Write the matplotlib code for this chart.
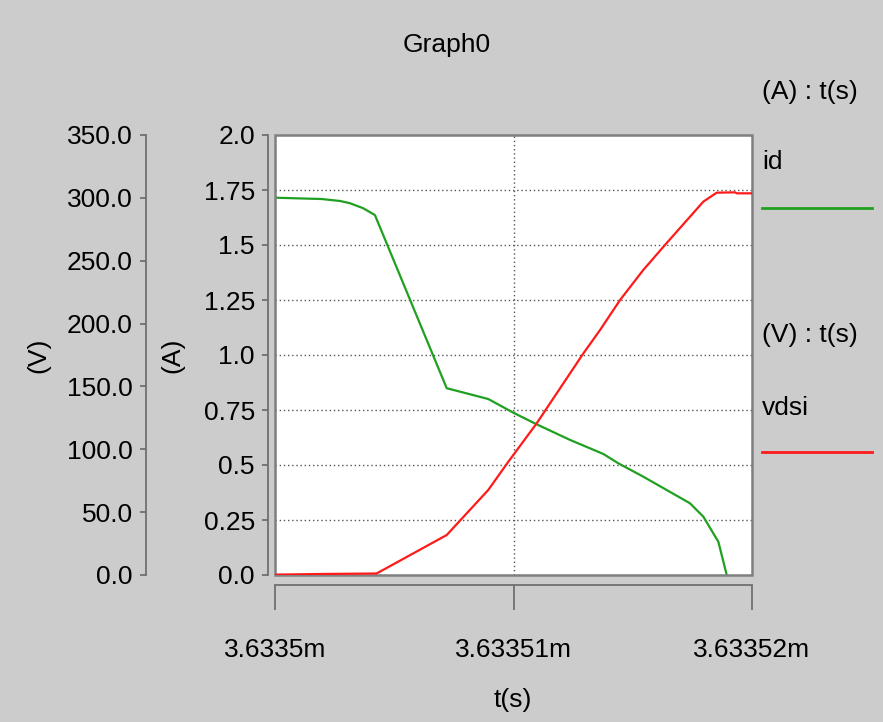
import matplotlib.pyplot as plt
from matplotlib.lines import Line2D
from matplotlib.patches import Rectangle

plt.rcParams['font.family'] = ['Liberation Sans', 'DejaVu Sans']
plt.rcParams['font.size'] = 19

# time in ns after 3.6335 ms
id_t = [0, 0.96, 1.96, 2.73, 3.14, 3.70, 4.19, 7.20, 8.94, 9.99, 10.97,
        12.37, 13.77, 14.39, 15.44, 17.40, 17.96, 18.59, 18.94]
id_a = [1.715, 1.712, 1.709, 1.70, 1.69, 1.667, 1.636, 0.849, 0.80, 0.738, 0.685,
        0.614, 0.55, 0.508, 0.447, 0.326, 0.265, 0.151, 0.0]

vds_t = [0, 1.97, 4.26, 7.20, 8.94, 9.78, 10.97, 12.93, 13.63, 14.47, 15.44,
         16.35, 17.40, 17.96, 18.52, 19.29, 19.36, 20.0]
vds_v = [0.3, 0.8, 1.2, 31.8, 67.6, 90.0, 120.6, 176.3, 194.9, 218.8, 242.6,
         262.5, 285.0, 297.0, 304.1, 304.4, 303.6, 303.6]

x_ticks = [3.6335, 3.63351, 3.63352]
x_labels = ['3.6335m', '3.63351m', '3.63352m']
a_ticks = [0, 0.25, 0.5, 0.75, 1.0, 1.25, 1.5, 1.75, 2.0]
a_labels = ['0.0', '0.25', '0.5', '0.75', '1.0', '1.25', '1.5', '1.75', '2.0']
v_ticks = [0, 50, 100, 150, 200, 250, 300, 350]
v_labels = ['0.0', '50.0', '100.0', '150.0', '200.0', '250.0', '300.0', '350.0']

t0 = 3.6335
id_ms = [t0 + t * 1e-6 for t in id_t]
vds_ms = [t0 + t * 1e-6 for t in vds_t]

W, H = 883, 722
bg = '#cccccc'
axc = '#707070'
fig = plt.figure(figsize=(W / 100, H / 100), dpi=100, facecolor=bg)

ax = fig.add_axes([275 / W, 1 - 575 / H, 477 / W, 440 / H])
ax.set_facecolor('white')
ax.plot(id_ms, id_a, color='#20a020', lw=1.6, zorder=3)
ax.set_xlim(3.6335, 3.63352)
ax.set_ylim(0, 2)
ax.set_xticks(x_ticks)
ax.set_xticklabels(x_labels)
ax.set_yticks(a_ticks)
ax.set_yticklabels(a_labels)
ax.grid(True, color='#555555', linestyle=(0, (1, 2)), lw=1)
for s in ['top', 'right']:
    ax.spines[s].set_visible(False)
ax.spines['left'].set_position(('axes', -7 / 477))
ax.spines['bottom'].set_position(('axes', -10 / 440))
for s in ['left', 'bottom']:
    ax.spines[s].set_color(axc)
    ax.spines[s].set_linewidth(1.3)
ax.tick_params(axis='y', length=4.5, width=1.3, color=axc, pad=5)
ax.tick_params(axis='x', length=18, width=1.3, color=axc, pad=20)
ax.add_patch(Rectangle((0, 0), 1, 1, transform=ax.transAxes, fill=False,
                       ec='#808080', lw=1.8, zorder=6, clip_on=False))

ax2 = ax.twinx()
ax2.plot(vds_ms, vds_v, color='#ff1a1a', lw=1.6, zorder=3)
ax2.set_ylim(0, 350)
ax2.set_yticks(v_ticks)
ax2.set_yticklabels(v_labels)
ax2.yaxis.set_ticks_position('left')
for s in ['top', 'right', 'bottom']:
    ax2.spines[s].set_visible(False)
ax2.spines['left'].set_position(('axes', -129 / 477))
ax2.spines['left'].set_color(axc)
ax2.spines['left'].set_linewidth(1.3)
ax2.tick_params(axis='y', length=4.5, width=1.3, color=axc, pad=5)

fig.text(447 / W, 1 - 45 / H, 'Graph0', ha='center', va='center')
fig.text(513 / W, 1 - 700 / H, 't(s)', ha='center', va='center')
fig.text(38 / W, 1 - 355 / H, '(V)', ha='center', va='center', rotation=90)
fig.text(172 / W, 1 - 355 / H, '(A)', ha='center', va='center', rotation=90)

fig.text(762 / W, 1 - 92 / H, '(A) : t(s)', ha='left', va='center')
fig.text(762 / W, 1 - 162 / H, 'id', ha='left', va='center')
fig.add_artist(Line2D([762 / W, 872 / W], [1 - 208 / H] * 2, color='#20a020', lw=2))
fig.text(762 / W, 1 - 335 / H, '(V) : t(s)', ha='left', va='center')
fig.text(762 / W, 1 - 408 / H, 'vdsi', ha='left', va='center')
fig.add_artist(Line2D([762 / W, 872 / W], [1 - 452 / H] * 2, color='#ff1a1a', lw=2))

fig.savefig('out.png', dpi=100, facecolor=bg)
